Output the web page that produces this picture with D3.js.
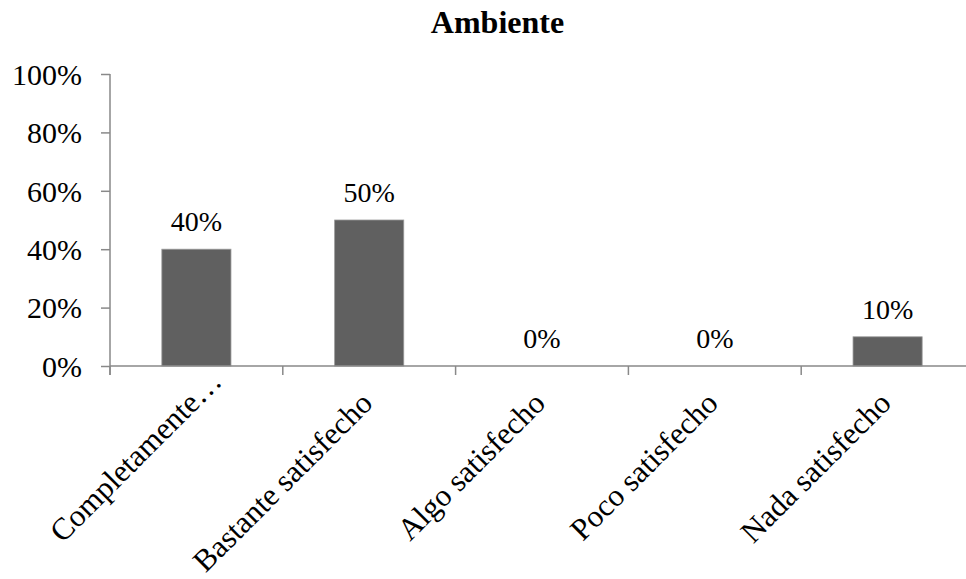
<!DOCTYPE html>
<html>
<head>
<meta charset="utf-8">
<script src="https://cdn.jsdelivr.net/npm/d3@7"></script>
<style>
  html, body { margin: 0; padding: 0; background: #fff; }
  svg { display: block; font-family: "Liberation Serif", "Times New Roman", serif; }
</style>
</head>
<body>
<svg id="chart" width="966" height="579"></svg>
<script>
// Satisfaction levels and share of responses
const categories = ["Completamente…", "Bastante satisfecho", "Algo satisfecho", "Poco satisfecho", "Nada satisfecho"];
const values = [0.40, 0.50, 0.00, 0.00, 0.10];
const yTicks = [0, 0.2, 0.4, 0.6, 0.8, 1.0];
const title = "Ambiente";

const svg = d3.select("#chart");
const plotLeft = 110, plotRight = 974, plotTop = 74, plotBottom = 366;
const axisColor = "#898989";

const x = d3.scaleBand().domain(categories).range([plotLeft, plotRight]).padding(0);
const y = d3.scaleLinear().domain([0, 1]).range([plotBottom, plotTop]);
const pct = d3.format(".0%");

// Title
svg.append("text")
  .attr("x", 497.5).attr("y", 33)
  .attr("text-anchor", "middle")
  .attr("font-weight", "bold")
  .attr("font-size", 32)
  .attr("fill", "#000")
  .text(title);

// Y axis
const yAxis = svg.append("g")
  .attr("transform", `translate(${plotLeft},0)`)
  .call(d3.axisLeft(y).tickValues(yTicks).tickFormat(pct).tickSize(9).tickPadding(19));
yAxis.select(".domain").remove();
yAxis.selectAll(".tick line").attr("stroke", axisColor).attr("stroke-width", 1.5);
yAxis.selectAll(".tick text")
  .attr("font-size", 30)
  .attr("font-family", "Liberation Serif, Times New Roman, serif")
  .attr("fill", "#000")
  .attr("dy", "0.34em");
yAxis.append("line")
  .attr("x1", 0).attr("x2", 0)
  .attr("y1", y(1)).attr("y2", plotBottom + 9)
  .attr("stroke", axisColor).attr("stroke-width", 1.5);

// Bars
const rows = categories.map((c, i) => ({ c, v: values[i] }));
const barW = x.bandwidth() * 0.4;
svg.append("g").selectAll("rect")
  .data(rows)
  .join("rect")
  .attr("x", d => x(d.c) + (x.bandwidth() - barW) / 2)
  .attr("y", d => y(d.v))
  .attr("width", barW)
  .attr("height", d => plotBottom - y(d.v))
  .attr("fill", "#606060")
  .attr("stroke", "#9a9a9a")
  .attr("stroke-width", 0.8);

// X axis line and boundary ticks
const xg = svg.append("g");
xg.append("line")
  .attr("x1", plotLeft).attr("x2", plotRight)
  .attr("y1", plotBottom).attr("y2", plotBottom)
  .attr("stroke", axisColor).attr("stroke-width", 1.5);
const bounds = categories.map(c => x(c)).concat([x.range()[1]]);
xg.selectAll("line.tick")
  .data(bounds)
  .join("line")
  .attr("class", "tick")
  .attr("x1", d => d).attr("x2", d => d)
  .attr("y1", plotBottom).attr("y2", plotBottom + 9)
  .attr("stroke", axisColor).attr("stroke-width", 1.5);

// Value labels
svg.append("g").selectAll("text")
  .data(rows)
  .join("text")
  .attr("x", d => x(d.c) + x.bandwidth() / 2)
  .attr("y", d => y(d.v) - 18)
  .attr("text-anchor", "middle")
  .attr("font-size", 28)
  .attr("fill", "#000")
  .text(d => pct(d.v));

// Rotated category labels; truncated labels sit one em further along their baseline
const catSize = 31;
svg.append("g").selectAll("text")
  .data(categories)
  .join("text")
  .attr("text-anchor", "end")
  .attr("font-size", catSize)
  .attr("fill", "#000")
  .attr("transform", d => {
    const cx = x(d) + x.bandwidth() / 2 + 5;
    const cy = plotBottom + 39;
    const shift = d.endsWith("…") ? catSize : 0;
    return `translate(${cx},${cy}) rotate(-45) translate(${shift},0)`;
  })
  .text(d => d);
</script>
</body>
</html>
